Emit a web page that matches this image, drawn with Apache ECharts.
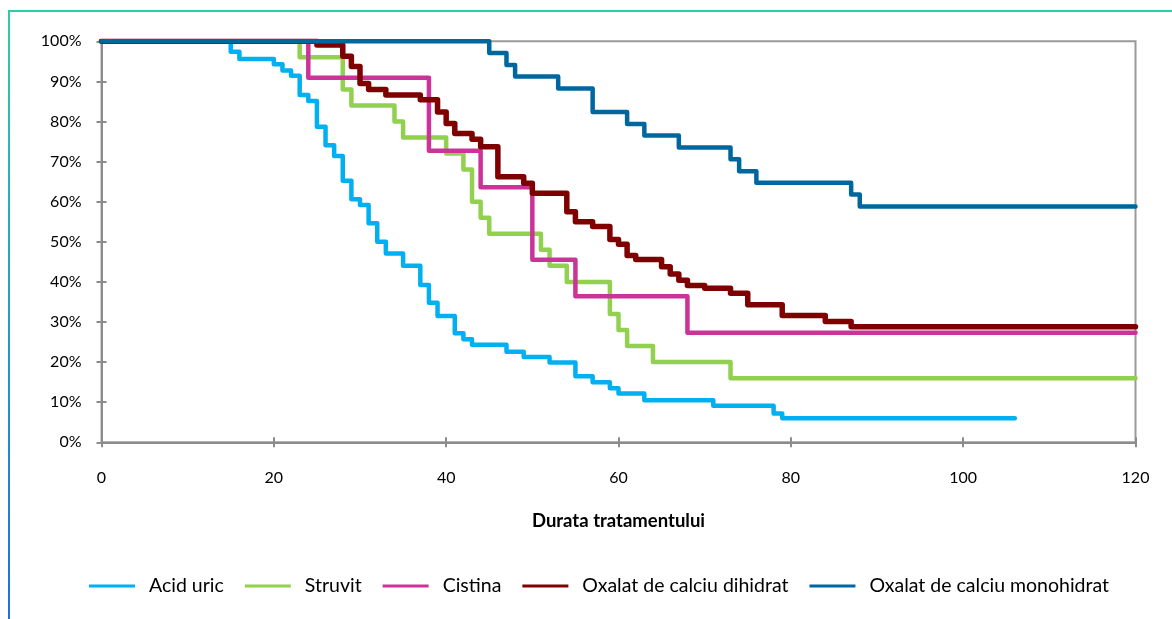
<!DOCTYPE html>
<html>
<head>
<meta charset="utf-8">
<title>Durata tratamentului</title>
<script src="https://cdn.jsdelivr.net/npm/echarts@6/dist/echarts.min.js"></script>
<style>
  html, body { margin: 0; padding: 0; background: #fff; }
  #main { width: 1172px; height: 619px; }
</style>
</head>
<body>
<div id="main"></div>
<script>
// axa x: durata tratamentului, axa y: procent (supravietuire)
var xTicks = [0, 20, 40, 60, 80, 100, 120];

var acidUricT = [0, 15, 16, 20, 21, 22, 23, 24, 25, 26, 27, 28, 29, 30, 31, 32, 33, 35, 37, 38, 39, 41, 42, 43, 47, 49, 52, 55, 57, 59, 60, 63, 71, 78, 79, 106];
var acidUricS = [100, 97.4, 95.6, 94.3, 92.7, 91.4, 86.6, 85.1, 78.7, 74.1, 71.4, 65.2, 60.6, 59.2, 54.6, 50.0, 47.1, 44.0, 39.2, 34.8, 31.5, 27.2, 25.7, 24.3, 22.6, 21.3, 19.9, 16.5, 15.0, 13.5, 12.2, 10.5, 9.1, 7.2, 6.0, 6.0];

var struvitT = [0, 23, 28, 29, 34, 35, 40, 42, 43, 44, 45, 51, 52, 54, 59, 60, 61, 64, 73, 120];
var struvitS = [100, 96, 88, 84, 80, 76, 72, 68, 60, 56, 52, 48, 44, 40, 32, 28, 24, 20, 16, 16];

var cistinaT = [0, 24, 38, 44, 50, 55, 68, 120];
var cistinaS = [100, 90.9, 72.7, 63.6, 45.5, 36.4, 27.3, 27.3];

var dihidratT = [0, 25, 28, 29, 30, 31, 33, 37, 39, 40, 41, 43, 44, 46, 49, 50, 54, 55, 57, 59, 60, 61, 62, 65, 66, 67, 68, 70, 73, 75, 79, 84, 87, 120];
var dihidratS = [100, 99.1, 96.3, 93.7, 89.5, 88.0, 86.6, 85.4, 82.4, 79.5, 77.0, 75.6, 73.7, 66.2, 64.6, 62.1, 57.5, 55.0, 53.8, 50.6, 49.4, 46.6, 45.6, 43.8, 42.0, 40.4, 39.1, 38.4, 37.2, 34.3, 31.6, 30.1, 28.8, 28.8];

var monohidratT = [0, 45, 47, 48, 53, 57, 61, 63, 67, 73, 74, 76, 87, 88, 120];
var monohidratS = [100, 97.1, 94.1, 91.2, 88.2, 82.4, 79.4, 76.5, 73.5, 70.6, 67.6, 64.7, 61.8, 58.8, 58.8];

var seriesNames = ['Acid uric', 'Struvit', 'Cistina', 'Oxalat de calciu dihidrat', 'Oxalat de calciu monohidrat'];
var seriesColors = ['#00B0F0', '#92D050', '#CC3399', '#7F0000', '#00679E'];
var seriesWidths = [4.5, 4.5, 4.5, 5.5, 4.5];

function pairs(t, s) {
  var out = [];
  for (var i = 0; i < t.length; i++) out.push([t[i], s[i]]);
  return out;
}

var curves = [
  pairs(acidUricT, acidUricS),
  pairs(struvitT, struvitS),
  pairs(cistinaT, cistinaS),
  pairs(dihidratT, dihidratS),
  pairs(monohidratT, monohidratS)
];

var font = 'Lato, "Open Sans", sans-serif';

var chart = echarts.init(document.getElementById('main'));

var option = {
  animation: false,
  textStyle: { fontFamily: font },
  grid: {
    left: 101.5, right: 36.5, top: 41.3, bottom: 176.7,
    show: true, borderColor: '#9a9a9a', borderWidth: 2
  },
  xAxis: [{
    type: 'value', min: 0, max: 120, interval: 20,
    name: 'Durata tratamentului', nameLocation: 'middle', nameGap: 69,
    nameTextStyle: { color: '#000', fontSize: 18.5, fontWeight: 'bold', fontFamily: font },
    axisLine: { show: true, lineStyle: { color: '#8c8c8c', width: 2 } },
    axisTick: { show: true, length: 5, lineStyle: { color: '#8c8c8c', width: 2 } },
    axisLabel: { color: '#000', fontSize: 16, margin: 28, fontFamily: font,
      formatter: function (v) { return xTicks.indexOf(v) >= 0 ? String(v) : ''; } },
    splitLine: { show: false }
  }, {
    type: 'value', min: 0, max: 120, interval: 20, position: 'bottom',
    axisLine: { show: false },
    axisTick: { show: true, inside: true, length: 5, lineStyle: { color: '#8c8c8c', width: 2 } },
    axisLabel: { show: false }, splitLine: { show: false }
  }],
  yAxis: [{
    type: 'value', min: 0, max: 100, interval: 10,
    axisLine: { show: true, lineStyle: { color: '#8c8c8c', width: 2 } },
    axisTick: { show: true, length: 5, lineStyle: { color: '#8c8c8c', width: 2 } },
    axisLabel: { color: '#000', fontSize: 16, margin: 20, formatter: '{value}%', fontFamily: font },
    splitLine: { show: false }
  }, {
    type: 'value', min: 0, max: 100, interval: 10, position: 'left',
    axisLine: { show: false },
    axisTick: { show: true, inside: true, length: 5, lineStyle: { color: '#8c8c8c', width: 2 } },
    axisLabel: { show: false }, splitLine: { show: false }
  }],
  legend: {
    bottom: 18, left: 84,
    itemWidth: 46, itemHeight: 3, itemGap: 21,
    icon: 'rect',
    textStyle: { color: '#000', fontSize: 19.5, fontFamily: font, padding: [0, 0, 0, 9] },
    data: seriesNames
  },
  series: curves.map(function (d, i) {
    return {
      name: seriesNames[i], type: 'line', step: 'end',
      data: d, showSymbol: false, symbol: 'none',
      itemStyle: { color: seriesColors[i] },
      lineStyle: { color: seriesColors[i], width: seriesWidths[i], cap: 'round', join: 'round' }
    };
  }),
  graphic: [{
    type: 'line', shape: { x1: 9, y1: 11, x2: 1172, y2: 11 },
    style: { stroke: '#2ECDA7', lineWidth: 2 }
  }, {
    type: 'line', shape: { x1: 9, y1: 10, x2: 9, y2: 619 },
    style: {
      lineWidth: 2,
      stroke: new echarts.graphic.LinearGradient(0, 0, 0, 1, [
        { offset: 0, color: '#2ECDA7' }, { offset: 1, color: '#1E6FDB' }
      ])
    }
  }]
};

chart.setOption(option);
</script>
</body>
</html>
